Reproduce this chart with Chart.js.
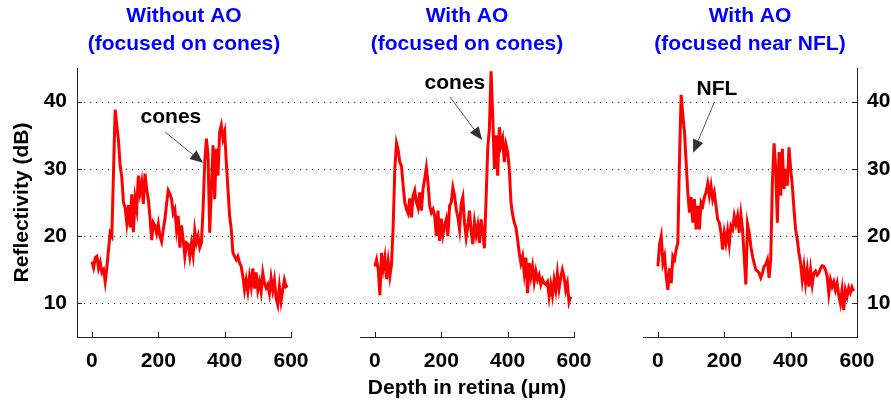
<!DOCTYPE html>
<html>
<head>
<meta charset="utf-8">
<script src="https://cdn.jsdelivr.net/npm/chart.js@4"></script>
<style>
  body { margin: 0; background: #fff; }
  #wrap { position: relative; width: 891px; height: 404px; }
  #wrap canvas { position: absolute; left: 0; top: 0; }
</style>
</head>
<body>
<div id="wrap">
  <canvas id="c2" width="891" height="404"></canvas>
  <canvas id="c1" width="891" height="404"></canvas>
  <canvas id="c3" width="891" height="404"></canvas>
</div>
<script>
// depth in retina (um)
const depth = [
  0, 5, 10, 15, 20, 25, 30, 35, 40, 45, 50, 55, 60, 65, 70, 75, 80, 85, 90, 95,
  100, 105, 110, 115, 120, 125, 130, 135, 140, 145, 150, 155, 160, 165, 170, 175, 180, 185, 190, 195,
  200, 205, 210, 215, 220, 225, 230, 235, 240, 245, 250, 255, 260, 265, 270, 275, 280, 285, 290, 295,
  300, 305, 310, 315, 320, 325, 330, 335, 340, 345, 350, 355, 360, 365, 370, 375, 380, 385, 390, 395,
  400, 405, 410, 415, 420, 425, 430, 435, 440, 445, 450, 455, 460, 465, 470, 475, 480, 485, 490, 495,
  500, 505, 510, 515, 520, 525, 530, 535, 540, 545, 550, 555, 560, 565, 570, 575, 580, 585, 590
];

// reflectivity (dB)
const withoutAO = [
  16.2, 15.3, 16.8, 17.0, 15.2, 16.1, 14.6, 15.0, 13.2, 15.3,
  18.0, 20.5, 20.0, 29.5, 38.8, 36.5, 34.2, 30.5, 28.8, 25.0,
  24.2, 22.0, 24.6, 21.3, 26.2, 20.6, 25.6, 24.0, 29.0, 26.5,
  28.0, 24.8, 29.3, 27.0, 25.5, 22.8, 19.4, 22.0, 21.5, 20.4,
  21.8, 20.0, 19.2, 21.0, 22.5, 24.8, 26.8, 26.3, 25.5, 23.4,
  24.0, 21.0, 23.0, 18.3, 21.6, 19.5, 17.0, 19.0, 18.8, 17.0,
  18.9, 17.2, 20.8, 19.0, 20.0, 18.3, 19.0, 24.0, 31.0, 34.5,
  32.0, 20.5, 27.0, 33.5, 25.5, 33.0, 29.0, 35.5, 36.5, 34.5,
  35.5, 31.0, 27.0, 23.0, 21.0, 17.5, 17.0, 16.5, 17.0, 16.0,
  15.5, 14.0, 12.0, 13.5, 11.8, 14.0, 12.5, 15.2, 12.2, 14.6,
  12.0, 13.2, 11.7, 14.5, 13.0, 12.3, 12.8, 11.5, 13.8, 12.0,
  13.5, 10.8, 9.8, 12.5, 10.3, 12.0, 13.5, 12.5, 12.7
];

const withAOcones = [
  15.5, 16.5, 15.0, 11.2, 17.5, 15.2, 16.8, 13.6, 16.2, 14.0,
  15.8, 21.5, 30.0, 33.8, 32.8, 31.0, 30.4, 27.5, 25.0, 24.0,
  23.4, 25.6, 22.8, 26.0, 26.8, 25.0, 24.2, 26.5, 23.8, 27.0,
  28.5, 30.2, 28.0, 24.5, 23.5, 24.0, 23.0, 20.0, 23.8, 19.3,
  22.6, 20.2, 21.5, 22.5, 20.0, 24.5, 25.0, 27.2, 26.0, 24.0,
  22.8, 21.0, 24.8, 25.8, 22.0, 19.8, 21.5, 23.8, 20.8, 18.8,
  22.0, 20.2, 21.6, 19.0, 22.5, 20.5, 18.2, 25.5, 33.0, 36.0,
  44.5, 38.0, 30.0, 35.0, 29.0, 36.2, 33.5, 34.5, 31.0, 33.6,
  32.5, 30.0, 25.0, 23.2, 22.0, 21.3, 19.5, 17.5, 16.0, 17.0,
  14.5, 16.8, 11.5, 16.0, 14.0, 15.5, 13.2, 14.8, 13.5, 14.2,
  12.8, 13.6, 13.0, 12.8, 13.2, 11.0, 12.8, 11.2, 13.5, 12.0,
  14.5, 12.2, 13.8, 15.0, 14.0, 12.0, 13.0, 10.2, 11.0
];

const withAOnfl = [
  15.5, 18.8, 20.0, 16.0, 17.0, 14.0, 12.0, 15.2, 13.0, 17.0,
  16.5, 18.0, 19.0, 31.5, 41.0, 38.0, 35.5, 31.0, 26.5, 23.5,
  25.8, 22.0, 25.5, 21.0, 24.5, 21.0, 25.0, 24.5, 25.8, 26.5,
  27.8, 26.0, 27.5, 25.5, 26.5, 24.5, 22.5, 22.0, 20.5, 18.0,
  20.5, 19.0, 20.8, 18.8, 21.5, 21.0, 23.0, 21.8, 23.0, 20.5,
  23.2, 21.0, 17.0, 12.8, 21.8, 20.5, 18.5, 17.0, 16.0, 15.0,
  14.8, 14.5, 13.8, 14.5, 15.5, 15.8, 16.5, 13.8, 16.5, 28.0,
  33.8, 30.0, 22.0, 32.5, 26.0, 33.0, 27.0, 30.0, 27.5, 33.2,
  30.0, 27.5, 24.0, 21.0, 19.5, 17.5, 16.0, 13.5, 15.5, 13.0,
  15.0, 12.5, 15.0, 12.8, 14.5, 14.8, 14.2, 14.5, 15.2, 15.6,
  15.5, 15.0, 14.0, 11.5, 13.5, 12.5, 13.2, 12.0, 13.0, 11.2,
  10.0, 12.0, 9.0, 12.0, 11.0, 12.3, 11.6, 12.4, 11.8
];

const xTicks = [0, 200, 400, 600];
const yTicks = [10, 20, 30, 40];

const panelTitles = [
  ['Without AO', '(focused on cones)'],
  ['With AO', '(focused on cones)'],
  ['With AO', '(focused near NFL)']
];

// text label and arrow, in data units (depth, dB)
const panelNotes = [
  { text: 'cones', tx: 238, ty: 37.7, x0: 220, y0: 35.5, x1: 335, y1: 30.9 },
  { text: 'cones', tx: 241, ty: 42.8, x0: 226, y0: 40.7, x1: 323, y1: 34.3 },
  { text: 'NFL', tx: 178, ty: 41.9, x0: 169, y0: 39.8, x1: 106, y1: 32.4 }
];

const FONT = '"Liberation Sans", Arial, Helvetica, sans-serif';
Chart.defaults.font.family = FONT;
Chart.defaults.font.size = 21;
Chart.defaults.font.weight = 'bold';
Chart.defaults.color = '#000';

const AXIS = '#222';

// inward tick marks + annotation
const panelMarks = {
  id: 'panelMarks',
  afterDatasetsDraw(chart, args, o) {
    const { ctx, chartArea: a, scales: { x, y } } = chart;
    ctx.save();
    ctx.strokeStyle = AXIS;
    ctx.lineWidth = 1;
    ctx.beginPath();
    xTicks.forEach(v => {
      const px = Math.round(x.getPixelForValue(v)) + 0.5;
      ctx.moveTo(px, a.bottom);
      ctx.lineTo(px, a.bottom - 5);
    });
    if (o.ySide) {
      const ex = o.ySide === 'left' ? a.left : a.right;
      const d = o.ySide === 'left' ? 5 : -5;
      yTicks.forEach(v => {
        const py = Math.round(y.getPixelForValue(v)) + 0.5;
        ctx.moveTo(ex, py);
        ctx.lineTo(ex + d, py);
      });
    }
    ctx.stroke();

    const n = o.note;
    if (n) {
      ctx.fillStyle = '#000';
      ctx.textAlign = 'center';
      ctx.textBaseline = 'middle';
      ctx.font = 'bold 21px ' + FONT;
      ctx.fillText(n.text, x.getPixelForValue(n.tx), y.getPixelForValue(n.ty));

      const sx = x.getPixelForValue(n.x0), sy = y.getPixelForValue(n.y0);
      const ex = x.getPixelForValue(n.x1), ey = y.getPixelForValue(n.y1);
      const ang = Math.atan2(ey - sy, ex - sx);
      const hl = 13, hw = 5.5;
      const bx = ex - hl * Math.cos(ang), by = ey - hl * Math.sin(ang);
      ctx.strokeStyle = '#555';
      ctx.fillStyle = '#333';
      ctx.beginPath();
      ctx.moveTo(sx, sy);
      ctx.lineTo(bx, by);
      ctx.stroke();
      ctx.beginPath();
      ctx.moveTo(ex, ey);
      ctx.lineTo(bx + hw * Math.sin(ang), by - hw * Math.cos(ang));
      ctx.lineTo(bx - hw * Math.sin(ang), by + hw * Math.cos(ang));
      ctx.closePath();
      ctx.fill();
    }
    ctx.restore();
  }
};

function makePanel(id, values, i, p) {
  return new Chart(document.getElementById(id), {
    type: 'line',
    data: {
      datasets: [{
        data: values.map((v, k) => ({ x: depth[k], y: v })),
        borderColor: '#ff0000',
        borderWidth: 3,
        pointRadius: 0,
        tension: 0,
        fill: false
      }]
    },
    options: {
      responsive: false,
      animation: false,
      devicePixelRatio: 1,
      layout: { padding: { left: p.left, right: p.right, top: 0, bottom: 0 } },
      plugins: {
        legend: { display: false },
        tooltip: { enabled: false },
        title: {
          display: true,
          text: panelTitles[i],
          color: '#0000ff',
          fullSize: false,
          font: { size: 21, weight: 'bold', lineHeight: 1.3 },
          padding: { top: 3, bottom: 10.4 }
        },
        panelMarks: { ySide: p.ySide, note: panelNotes[i] },
        gridAll: p.gridAll || false
      },
      scales: {
        x: {
          type: 'linear',
          min: -45,
          max: 600,
          afterBuildTicks: s => { s.ticks = xTicks.map(v => ({ value: v })); },
          afterFit: s => { s.height = 67; },
          grid: { display: false, drawTicks: false },
          border: { display: true, color: AXIS, width: 1 },
          ticks: { padding: 12, color: '#000', font: { size: 21, weight: 'bold' } },
          title: {
            display: !!p.xTitle,
            text: 'Depth in retina (\u03bcm)',
            color: '#000',
            font: { size: 21, weight: 'bold' },
            padding: { top: 0, bottom: 3.5 }
          }
        },
        y: {
          type: 'linear',
          position: p.ySide || 'left',
          min: 5,
          max: 45,
          afterBuildTicks: s => { s.ticks = yTicks.map(v => ({ value: v })); },
          afterFit: s => { s.width = p.yWidth; },
          grid: { display: false, drawTicks: false },
          border: { display: !!p.ySide, color: AXIS, width: 1 },
          ticks: { display: !!p.ySide, padding: 10, color: '#000', font: { size: 21, weight: 'bold' } },
          title: {
            display: !!p.yTitle,
            text: 'Reflectivity (dB)',
            color: '#000',
            font: { size: 21, weight: 'bold' },
            padding: { top: 9.5, bottom: 0 }
          }
        }
      }
    },
    plugins: [panelMarks, gridAll]
  });
}

let chart1, chart3;

// dotted horizontal grid running across all three panels
const gridAll = {
  id: 'gridAll',
  beforeDatasetsDraw(chart, args, o) {
    if (!o || !o.on) return;
    const { ctx, scales: { y } } = chart;
    const left = chart1.chartArea.left + 1;
    const right = chart3.chartArea.right - 1;
    ctx.save();
    ctx.strokeStyle = '#000';
    ctx.lineWidth = 1;
    ctx.setLineDash([1, 5]);
    ctx.beginPath();
    yTicks.forEach(v => {
      const py = Math.round(y.getPixelForValue(v)) + 0.5;
      ctx.moveTo(left, py);
      ctx.lineTo(right, py);
    });
    ctx.stroke();
    ctx.restore();
  }
};

chart1 = makePanel('c1', withoutAO, 0, { left: 0, right: 600, ySide: 'left', yWidth: 77, yTitle: true });
chart3 = makePanel('c3', withAOnfl, 2, { left: 643, right: 0, ySide: 'right', yWidth: 34 });
makePanel('c2', withAOcones, 1, { left: 360, right: 317, yWidth: 0, xTitle: true, gridAll: { on: true } });
</script>
</body>
</html>
